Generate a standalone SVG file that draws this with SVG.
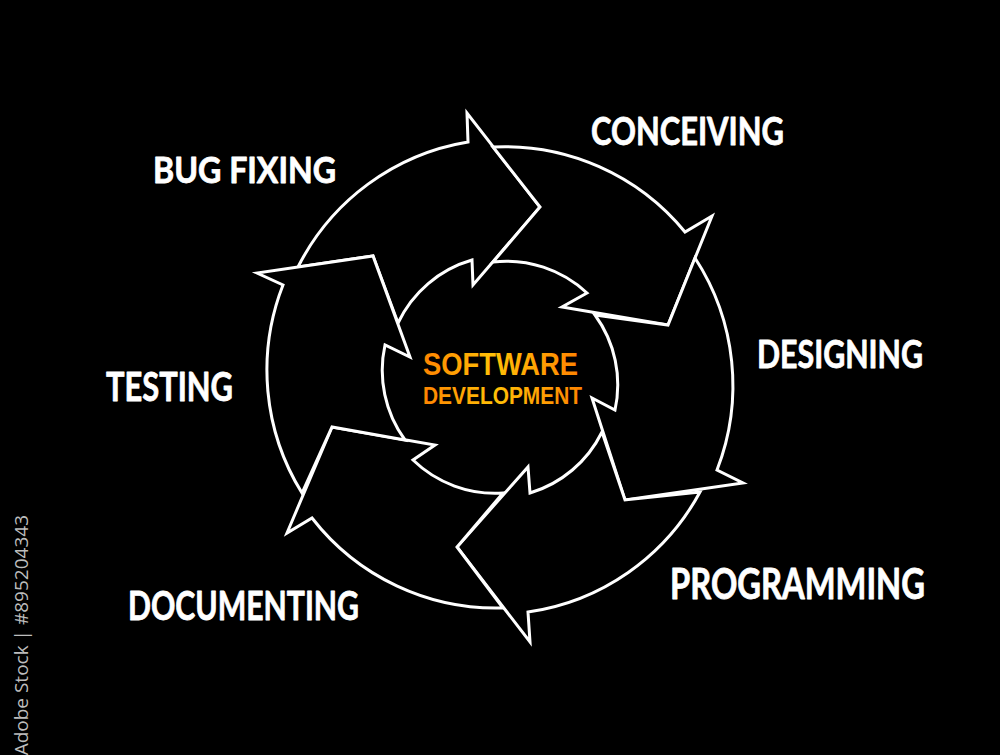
<svg xmlns="http://www.w3.org/2000/svg" width="1000" height="755" viewBox="0 0 1000 755">
  <defs>
    <linearGradient id="og" x1="0" y1="0" x2="1" y2="0">
      <stop offset="0" stop-color="#ff8400"/>
      <stop offset="0.45" stop-color="#ffc107"/>
      <stop offset="1" stop-color="#ff8400"/>
    </linearGradient>
    <style>
      .arrow { fill: #000; stroke: #fff; stroke-width: 3; stroke-linejoin: miter; }
      .lbl { font-family: Lato, "Liberation Sans", sans-serif; font-weight: 700; fill: #fff; stroke: #fff; stroke-width: 0.8; stroke-linejoin: round; }
      .ctr { font-family: "Liberation Sans", Lato, sans-serif; font-weight: 700; fill: url(#og); }
      .wm { font-family: "Open Sans", "Liberation Sans", sans-serif; fill: #bdbdbd; }
    </style>
  </defs>
  <rect width="1000" height="755" fill="#000"/>

  <g id="connectors">
    <path id="arrow-top" class="arrow" d="M298,267 A233,233 0 0 1 468,142 L467,113 L540,207 L473,285 L472,260 A118,118 0 0 0 398,323 L373,256 Z"/>
    <path id="arrow-upper-right" class="arrow" d="M493,147 A233,233 0 0 1 685,232 L712,216 L668,325 L562,307 L587,293 A118,118 0 0 0 493,262 L540,207 Z"/>
    <path id="arrow-right" class="arrow" d="M695,258 A233,233 0 0 1 717,470 L743,483 L625,500 L592,398 L615,410 A118,118 0 0 0 595,315 L668,325 Z"/>
    <path id="arrow-bottom" class="arrow" d="M700,492 A233,233 0 0 1 528,612 L530,642 L457,547 L528,467 L530,493 A118,118 0 0 0 602,432 L625,500 Z"/>
    <path id="arrow-bottom-left" class="arrow" d="M503,608 A233,233 0 0 1 312,518 L287,533 L332,427 L435,445 L413,460 A118,118 0 0 0 503,493 L457,547 Z"/>
    <path id="arrow-left" class="arrow" d="M302,493 A233,233 0 0 1 283,285 L257,273 L373,256 L410,357 L385,345 A118,118 0 0 0 405,440 L332,427 Z"/>
  </g>

  <g id="center">
    <text class="ctr" x="423" y="375" font-size="32" textLength="155" lengthAdjust="spacingAndGlyphs">SOFTWARE</text>
    <text class="ctr" x="423" y="404" font-size="23" textLength="159" lengthAdjust="spacingAndGlyphs">DEVELOPMENT</text>
  </g>

  <g id="conceiving"><text class="lbl" x="591" y="145" font-size="39" textLength="193" lengthAdjust="spacingAndGlyphs">CONCEIVING</text></g>
  <g id="bug-fixing"><text class="lbl" x="153" y="183" font-size="36" textLength="183" lengthAdjust="spacingAndGlyphs">BUG FIXING</text></g>
  <g id="designing"><text class="lbl" x="757" y="368" font-size="39" textLength="166" lengthAdjust="spacingAndGlyphs">DESIGNING</text></g>
  <g id="testing"><text class="lbl" x="106" y="401" font-size="41" textLength="127" lengthAdjust="spacingAndGlyphs">TESTING</text></g>
  <g id="programming"><text class="lbl" x="670" y="599" font-size="42" textLength="255" lengthAdjust="spacingAndGlyphs">PROGRAMMING</text></g>
  <g id="documenting"><text class="lbl" x="128" y="620" font-size="41" textLength="231" lengthAdjust="spacingAndGlyphs">DOCUMENTING</text></g>

  <text class="wm" transform="translate(28,515) rotate(-90)" text-anchor="end" font-size="19">Adobe Stock | #895204343</text>
</svg>
